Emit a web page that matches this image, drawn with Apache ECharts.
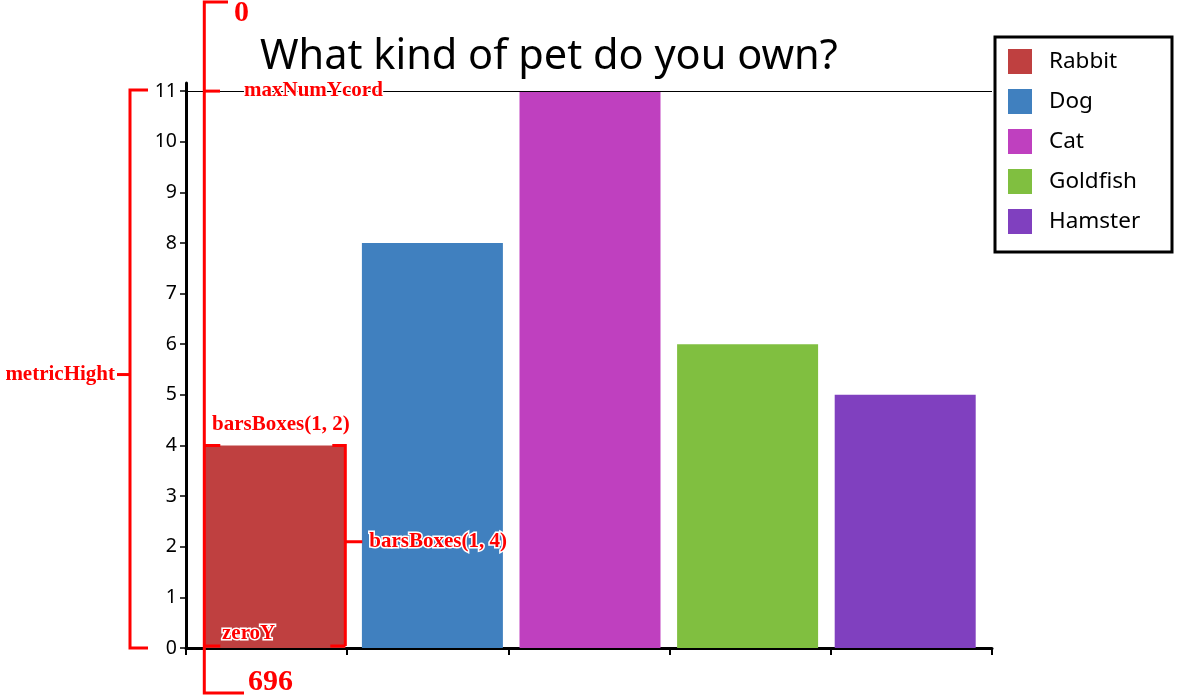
<!DOCTYPE html>
<html>
<head>
<meta charset="utf-8">
<script src="https://cdn.jsdelivr.net/npm/echarts@6/dist/echarts.min.js"></script>
<style>
  html, body { margin: 0; padding: 0; background: #fff; }
  #chart { width: 1194px; height: 696px; }
</style>
</head>
<body>
<div id="chart"></div>
<script>
// 数据
const categories = ['Rabbit', 'Dog', 'Cat', 'Goldfish', 'Hamster']
const petCounts = [4, 8, 11, 6, 5]
const barColors = ['#BF4040', '#4080BF', '#BF40BF', '#80BF40', '#8040BF']
const yTicks = [0, 1, 2, 3, 4, 5, 6, 7, 8, 9, 10, 11]

const chart = echarts.init(document.getElementById('chart'))

// one series per pet so the legend lists every category
const barSeries = categories.map((name, i) => {
  return {
    name: name,
    type: 'bar',
    stack: 'pets',
    xAxisIndex: 1,
    yAxisIndex: 1,
    barWidth: 141,
    itemStyle: { color: barColors[i] },
    data: petCounts.map((v, j) => (j === i ? v : '-'))
  }
})

const red = '#FF0000'
const annoFont = 'Liberation Serif, Times New Roman, serif'

const option = {
  animation: false,
  backgroundColor: '#fff',
  title: {
    text: 'What kind of pet do you own?',
    left: 255,
    top: 31,
    textStyle: {
      fontFamily: 'Noto Sans',
      fontSize: 41.5,
      fontWeight: 'normal',
      color: '#000'
    }
  },
  legend: {
    data: categories,
    orient: 'vertical',
    left: 1003,
    top: 44,
    itemWidth: 24,
    itemHeight: 25,
    itemGap: 15,
    icon: 'rect',
    textStyle: {
      fontFamily: 'Noto Sans',
      fontSize: 22.5,
      color: '#000',
      padding: [0, 0, 0, 12]
    }
  },
  grid: [
    { left: 186, right: 202, top: 83, bottom: 48 },
    { left: 196, right: 210, top: 83, bottom: 48 }
  ],
  xAxis: [
    {
      type: 'category',
      gridIndex: 0,
      data: categories,
      axisLine: { lineStyle: { color: '#000', width: 3 } },
      axisTick: { show: true, interval: 0, length: 7, lineStyle: { color: '#000', width: 2 } },
      axisLabel: { show: false }
    },
    {
      type: 'category',
      gridIndex: 1,
      data: categories,
      show: false
    }
  ],
  yAxis: [
    {
      type: 'value',
      gridIndex: 0,
      min: 0,
      max: 11.16,
      axisLine: { show: true, lineStyle: { color: '#000', width: 3 } },
      axisTick: { show: true, length: 6, customValues: yTicks, lineStyle: { color: '#000', width: 1.5 } },
      axisLabel: {
        customValues: yTicks,
        margin: 9,
        fontFamily: 'Noto Sans',
        fontSize: 19.5,
        color: '#000'
      },
      splitLine: { show: false }
    },
    {
      type: 'value',
      gridIndex: 1,
      min: 0,
      max: 11.16,
      show: false,
      splitLine: { show: false }
    }
  ],
  series: [
    ...barSeries,
    {
      type: 'line',
      xAxisIndex: 0,
      yAxisIndex: 0,
      data: [],
      markLine: {
        silent: true,
        symbol: 'none',
        label: { show: false },
        lineStyle: { color: '#000', width: 1, type: 'solid' },
        data: [{ yAxis: yTicks[yTicks.length - 1] }]
      }
    }
  ]
}
chart.setOption(option)

// 注释层 (red annotations) placed from the chart's own scales
const [barCx, barTop] = chart.convertToPixel({ gridIndex: 1 }, [0, petCounts[0]])
const zeroY = chart.convertToPixel({ yAxisIndex: 0 }, 0)
const maxY = chart.convertToPixel({ yAxisIndex: 0 }, yTicks[yTicks.length - 1])
const barL = barCx - 70.5
const barR = barCx + 70.5
const midBar = (barTop + zeroY) / 2 - 5
const midMetric = (maxY + zeroY) / 2 + 5

function redLine(points) {
  return {
    type: 'polyline',
    shape: { points: points },
    style: { stroke: red, lineWidth: 3, fill: null },
    z: 100
  }
}
function redText(text, x, y, size, align) {
  return {
    type: 'text',
    x: x,
    y: y,
    style: {
      text: text,
      fill: red,
      font: 'bold ' + size + 'px ' + annoFont,
      align: align || 'left',
      verticalAlign: 'middle',
      stroke: '#fff',
      lineWidth: 3
    },
    z: 101
  }
}

chart.setOption({
  graphic: [
    // legend box
    {
      type: 'rect',
      shape: { x: 995, y: 37, width: 177, height: 215 },
      style: { fill: null, stroke: '#000', lineWidth: 3 },
      z: 50
    },
    // full-height bracket 0 .. 696
    redLine([[228, 2], [barL, 2], [barL, 693], [244, 693]]),
    redLine([[barL, maxY], [220, maxY]]),
    redText('0', 234, 13, 30),
    redText('696', 248, 682, 30),
    redText('maxNumYcord', 244, maxY - 1, 21),
    // metricHight bracket
    redLine([[148, maxY - 1], [130, maxY - 1], [130, zeroY], [148, zeroY]]),
    redLine([[117, midMetric], [130, midMetric]]),
    redText('metricHight', 115, midMetric, 21, 'right'),
    // bar box bracket
    redLine([[barL, barTop], [barL + 16, barTop]]),
    redLine([[barR - 13, barTop], [barR, barTop], [barR, zeroY - 2]]),
    redLine([[barL, zeroY - 2], [barL + 16, zeroY - 2]]),
    redLine([[barR - 15, zeroY - 2], [barR, zeroY - 2]]),
    redLine([[barR, midBar], [barR + 17, midBar]]),
    redText('barsBoxes(1, 2)', 212, barTop - 21, 21),
    redText('barsBoxes(1, 4)', barR + 24, midBar, 21),
    redText('zeroY', 222, zeroY - 14, 21)
  ]
})
</script>
</body>
</html>
